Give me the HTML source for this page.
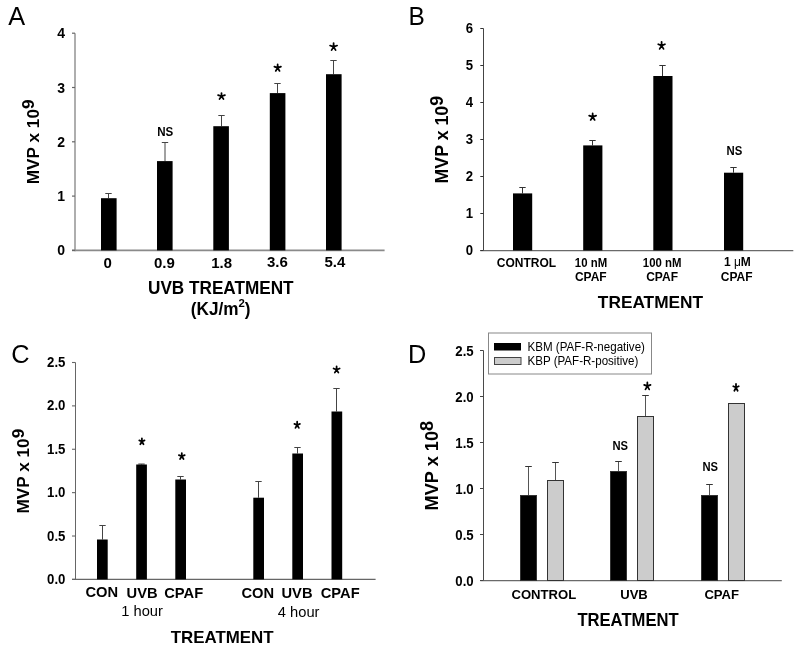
<!DOCTYPE html>
<html><head><meta charset="utf-8"><style>
html,body{margin:0;padding:0;background:#fff;width:800px;height:650px;overflow:hidden}
svg{display:block;font-family:"Liberation Sans", sans-serif;will-change:transform}
</style></head><body>
<svg width="800" height="650" viewBox="0 0 800 650">
<rect width="800" height="650" fill="#fff"/>
<text transform="translate(8.3,25) scale(0.975,1)" font-size="26" font-weight="normal" text-anchor="start" fill="#000" >A</text>
<line x1="75" y1="33.2" x2="75" y2="251.15" stroke="#a0a0a0" stroke-width="1.7"/>
<line x1="72" y1="250.4" x2="384.6" y2="250.4" stroke="#8a8a8a" stroke-width="1.6"/>
<line x1="72" y1="250.4" x2="75" y2="250.4" stroke="#666" stroke-width="1.2"/>
<text x="65" y="255.4" font-size="14" font-weight="bold" text-anchor="end" fill="#000" >0</text>
<line x1="72" y1="196.10000000000002" x2="75" y2="196.10000000000002" stroke="#666" stroke-width="1.2"/>
<text x="65" y="201.10000000000002" font-size="14" font-weight="bold" text-anchor="end" fill="#000" >1</text>
<line x1="72" y1="141.8" x2="75" y2="141.8" stroke="#666" stroke-width="1.2"/>
<text x="65" y="146.8" font-size="14" font-weight="bold" text-anchor="end" fill="#000" >2</text>
<line x1="72" y1="87.50000000000003" x2="75" y2="87.50000000000003" stroke="#666" stroke-width="1.2"/>
<text x="65" y="92.50000000000003" font-size="14" font-weight="bold" text-anchor="end" fill="#000" >3</text>
<line x1="72" y1="33.20000000000002" x2="75" y2="33.20000000000002" stroke="#666" stroke-width="1.2"/>
<text x="65" y="38.20000000000002" font-size="14" font-weight="bold" text-anchor="end" fill="#000" >4</text>
<line x1="108.5" y1="193.5" x2="108.5" y2="198.2" stroke="#444" stroke-width="1"/>
<line x1="105.3" y1="193.5" x2="111.7" y2="193.5" stroke="#444" stroke-width="1"/>
<rect x="101" y="198.2" width="15.6" height="52.20000000000002" fill="#000"/>
<line x1="165" y1="142.5" x2="165" y2="161.1" stroke="#444" stroke-width="1"/>
<line x1="161.8" y1="142.5" x2="168.2" y2="142.5" stroke="#444" stroke-width="1"/>
<rect x="157" y="161.1" width="15.6" height="89.30000000000001" fill="#000"/>
<line x1="221.5" y1="115.5" x2="221.5" y2="126.2" stroke="#444" stroke-width="1"/>
<line x1="218.3" y1="115.5" x2="224.7" y2="115.5" stroke="#444" stroke-width="1"/>
<rect x="213.3" y="126.2" width="15.6" height="124.2" fill="#000"/>
<line x1="277.5" y1="83.5" x2="277.5" y2="93.1" stroke="#444" stroke-width="1"/>
<line x1="274.3" y1="83.5" x2="280.7" y2="83.5" stroke="#444" stroke-width="1"/>
<rect x="269.8" y="93.1" width="15.6" height="157.3" fill="#000"/>
<line x1="333.5" y1="60.5" x2="333.5" y2="74.2" stroke="#444" stroke-width="1"/>
<line x1="330.3" y1="60.5" x2="336.7" y2="60.5" stroke="#444" stroke-width="1"/>
<rect x="326" y="74.2" width="15.6" height="176.2" fill="#000"/>
<text x="107.7" y="268.4" font-size="15" font-weight="bold" text-anchor="middle" fill="#000" >0</text>
<text x="164.4" y="268.4" font-size="15" font-weight="bold" text-anchor="middle" fill="#000" >0.9</text>
<text x="221.7" y="268.2" font-size="15" font-weight="bold" text-anchor="middle" fill="#000" >1.8</text>
<text x="277.4" y="267.4" font-size="15" font-weight="bold" text-anchor="middle" fill="#000" >3.6</text>
<text x="334.9" y="267.4" font-size="15" font-weight="bold" text-anchor="middle" fill="#000" >5.4</text>
<text transform="translate(165.3,136.2) scale(0.95,1)" font-size="12.2" font-weight="bold" text-anchor="middle" fill="#000" >NS</text>
<path d="M221.50 96.28L221.50 93.08 M221.50 96.28L218.07 95.13 M221.50 96.28L224.93 95.13 M221.50 96.28L219.52 99.03 M221.50 96.28L223.48 99.03" stroke="#000" stroke-width="1.75" stroke-linecap="round" fill="none"/>
<path d="M277.65 67.90L277.65 64.38 M277.65 67.90L274.38 66.65 M277.65 67.90L280.93 66.65 M277.65 67.90L275.74 70.92 M277.65 67.90L279.56 70.92" stroke="#000" stroke-width="1.75" stroke-linecap="round" fill="none"/>
<path d="M333.60 46.86L333.60 43.08 M333.60 46.86L330.07 45.54 M333.60 46.86L337.12 45.54 M333.60 46.86L331.58 50.12 M333.60 46.86L335.62 50.12" stroke="#000" stroke-width="1.75" stroke-linecap="round" fill="none"/>
<text transform="translate(220.8,293.5) scale(0.965,1)" font-size="17.8" font-weight="bold" text-anchor="middle" fill="#000" >UVB TREATMENT</text>
<text transform="translate(220.7,315) scale(0.965,1)" font-size="17.8" font-weight="bold" text-anchor="middle">(KJ/m<tspan dy="-7.6" font-size="11.8">2</tspan><tspan dy="7.6">)</tspan></text>
<text transform="translate(38.8,184.2) rotate(-90) scale(1.0,1)" font-size="17.2" font-weight="bold">MVP x 10<tspan dy="-5.3">9</tspan></text>
<text transform="translate(408.6,24.7) scale(0.94,1)" font-size="26" font-weight="normal" text-anchor="start" fill="#000" >B</text>
<line x1="483.5" y1="28.5" x2="483.5" y2="250.5" stroke="#444" stroke-width="1"/>
<line x1="480.3" y1="250.6" x2="793.3" y2="250.6" stroke="#6a6a6a" stroke-width="1.3"/>
<line x1="480.3" y1="250.5" x2="483.5" y2="250.5" stroke="#333" stroke-width="1"/>
<text transform="translate(473.1,255.4) scale(0.94,1)" font-size="14" font-weight="bold" text-anchor="end" fill="#000" >0</text>
<line x1="480.3" y1="213.5" x2="483.5" y2="213.5" stroke="#333" stroke-width="1"/>
<text transform="translate(473.1,218.4) scale(0.94,1)" font-size="14" font-weight="bold" text-anchor="end" fill="#000" >1</text>
<line x1="480.3" y1="176.5" x2="483.5" y2="176.5" stroke="#333" stroke-width="1"/>
<text transform="translate(473.1,181.4) scale(0.94,1)" font-size="14" font-weight="bold" text-anchor="end" fill="#000" >2</text>
<line x1="480.3" y1="139.5" x2="483.5" y2="139.5" stroke="#333" stroke-width="1"/>
<text transform="translate(473.1,144.4) scale(0.94,1)" font-size="14" font-weight="bold" text-anchor="end" fill="#000" >3</text>
<line x1="480.3" y1="102.5" x2="483.5" y2="102.5" stroke="#333" stroke-width="1"/>
<text transform="translate(473.1,107.4) scale(0.94,1)" font-size="14" font-weight="bold" text-anchor="end" fill="#000" >4</text>
<line x1="480.3" y1="65.5" x2="483.5" y2="65.5" stroke="#333" stroke-width="1"/>
<text transform="translate(473.1,70.4) scale(0.94,1)" font-size="14" font-weight="bold" text-anchor="end" fill="#000" >5</text>
<line x1="480.3" y1="28.5" x2="483.5" y2="28.5" stroke="#333" stroke-width="1"/>
<text transform="translate(473.1,33.4) scale(0.94,1)" font-size="14" font-weight="bold" text-anchor="end" fill="#000" >6</text>
<line x1="522.5" y1="187.5" x2="522.5" y2="193.4" stroke="#333" stroke-width="1"/>
<line x1="519.3" y1="187.5" x2="525.7" y2="187.5" stroke="#333" stroke-width="1"/>
<rect x="513" y="193.4" width="19.2" height="57.099999999999994" fill="#000"/>
<line x1="592.5" y1="140.5" x2="592.5" y2="145.4" stroke="#333" stroke-width="1"/>
<line x1="589.3" y1="140.5" x2="595.7" y2="140.5" stroke="#333" stroke-width="1"/>
<rect x="583.2" y="145.4" width="19.2" height="105.1" fill="#000"/>
<line x1="662.5" y1="65.5" x2="662.5" y2="76" stroke="#333" stroke-width="1"/>
<line x1="659.3" y1="65.5" x2="665.7" y2="65.5" stroke="#333" stroke-width="1"/>
<rect x="653.3" y="76" width="19.2" height="174.5" fill="#000"/>
<line x1="733.5" y1="167.5" x2="733.5" y2="172.7" stroke="#333" stroke-width="1"/>
<line x1="730.3" y1="167.5" x2="736.7" y2="167.5" stroke="#333" stroke-width="1"/>
<rect x="724" y="172.7" width="19.2" height="77.80000000000001" fill="#000"/>
<text x="526.5" y="266.8" font-size="12" font-weight="bold" text-anchor="middle" fill="#000" >CONTROL</text>
<text transform="translate(591,266.8) scale(0.95,1)" font-size="12" font-weight="bold" text-anchor="middle" fill="#000" >10 nM</text>
<text transform="translate(662.1,266.8) scale(0.95,1)" font-size="12" font-weight="bold" text-anchor="middle" fill="#000" >100 nM</text>
<text x="737.4" y="265.9" font-size="12" font-weight="bold" text-anchor="middle" fill="#000" >1 <tspan font-weight="normal">&#956;</tspan>M</text>
<text x="590.8" y="280.6" font-size="12" font-weight="bold" text-anchor="middle" fill="#000" >CPAF</text>
<text x="662.1" y="280.6" font-size="12" font-weight="bold" text-anchor="middle" fill="#000" >CPAF</text>
<text x="736.7" y="280.6" font-size="12" font-weight="bold" text-anchor="middle" fill="#000" >CPAF</text>
<text transform="translate(734.4,155) scale(0.93,1)" font-size="12.2" font-weight="bold" text-anchor="middle" fill="#000" >NS</text>
<path d="M592.65 116.90L592.65 113.38 M592.65 116.90L589.17 115.65 M592.65 116.90L596.12 115.65 M592.65 116.90L590.65 119.92 M592.65 116.90L594.65 119.92" stroke="#000" stroke-width="1.75" stroke-linecap="round" fill="none"/>
<path d="M661.60 45.62L661.60 41.77 M661.60 45.62L658.27 44.28 M661.60 45.62L664.92 44.28 M661.60 45.62L659.67 48.92 M661.60 45.62L663.53 48.92" stroke="#000" stroke-width="1.75" stroke-linecap="round" fill="none"/>
<text x="650.5" y="308.3" font-size="17.3" font-weight="bold" text-anchor="middle" fill="#000" >TREATMENT</text>
<text transform="translate(447.8,183.5) rotate(-90) scale(1.0,1)" font-size="17.8" font-weight="bold">MVP x 10<tspan dy="-5.3">9</tspan></text>
<text transform="translate(11.2,363) scale(0.975,1)" font-size="26" font-weight="normal" text-anchor="start" fill="#000" >C</text>
<line x1="75.5" y1="362.5" x2="75.5" y2="579.4" stroke="#666" stroke-width="1"/>
<line x1="72" y1="579.4" x2="375.6" y2="579.4" stroke="#666" stroke-width="1.2"/>
<line x1="72" y1="579.4" x2="75.5" y2="579.4" stroke="#666" stroke-width="1.1"/>
<text transform="translate(65.4,584.0) scale(0.88,1)" font-size="15" font-weight="bold" text-anchor="end" fill="#000" >0.0</text>
<line x1="72" y1="536.02" x2="75.5" y2="536.02" stroke="#666" stroke-width="1.1"/>
<text transform="translate(65.4,540.62) scale(0.88,1)" font-size="15" font-weight="bold" text-anchor="end" fill="#000" >0.5</text>
<line x1="72" y1="492.64" x2="75.5" y2="492.64" stroke="#666" stroke-width="1.1"/>
<text transform="translate(65.4,497.24) scale(0.88,1)" font-size="15" font-weight="bold" text-anchor="end" fill="#000" >1.0</text>
<line x1="72" y1="449.26" x2="75.5" y2="449.26" stroke="#666" stroke-width="1.1"/>
<text transform="translate(65.4,453.86) scale(0.88,1)" font-size="15" font-weight="bold" text-anchor="end" fill="#000" >1.5</text>
<line x1="72" y1="405.88" x2="75.5" y2="405.88" stroke="#666" stroke-width="1.1"/>
<text transform="translate(65.4,410.48) scale(0.88,1)" font-size="15" font-weight="bold" text-anchor="end" fill="#000" >2.0</text>
<line x1="72" y1="362.5" x2="75.5" y2="362.5" stroke="#666" stroke-width="1.1"/>
<text transform="translate(65.4,367.1) scale(0.88,1)" font-size="15" font-weight="bold" text-anchor="end" fill="#000" >2.5</text>
<line x1="102.5" y1="525.5" x2="102.5" y2="539.5" stroke="#444" stroke-width="1"/>
<line x1="99.3" y1="525.5" x2="105.7" y2="525.5" stroke="#444" stroke-width="1"/>
<rect x="97" y="539.5" width="10.7" height="39.89999999999998" fill="#000"/>
<line x1="141.5" y1="464" x2="141.5" y2="464.5" stroke="#444" stroke-width="1"/>
<line x1="138.3" y1="464" x2="144.7" y2="464" stroke="#444" stroke-width="1"/>
<rect x="136.2" y="464.5" width="10.7" height="114.89999999999998" fill="#000"/>
<line x1="180.5" y1="476.5" x2="180.5" y2="479.5" stroke="#444" stroke-width="1"/>
<line x1="177.3" y1="476.5" x2="183.7" y2="476.5" stroke="#444" stroke-width="1"/>
<rect x="175.3" y="479.5" width="10.7" height="99.89999999999998" fill="#000"/>
<line x1="258.5" y1="481.5" x2="258.5" y2="497.7" stroke="#444" stroke-width="1"/>
<line x1="255.3" y1="481.5" x2="261.7" y2="481.5" stroke="#444" stroke-width="1"/>
<rect x="253.3" y="497.7" width="10.7" height="81.69999999999999" fill="#000"/>
<line x1="297.5" y1="447.5" x2="297.5" y2="453.5" stroke="#444" stroke-width="1"/>
<line x1="294.3" y1="447.5" x2="300.7" y2="447.5" stroke="#444" stroke-width="1"/>
<rect x="292.3" y="453.5" width="10.7" height="125.89999999999998" fill="#000"/>
<line x1="336.5" y1="388.5" x2="336.5" y2="411.5" stroke="#444" stroke-width="1"/>
<line x1="333.3" y1="388.5" x2="339.7" y2="388.5" stroke="#444" stroke-width="1"/>
<rect x="331.5" y="411.5" width="10.7" height="167.89999999999998" fill="#000"/>
<text x="101.85" y="597.4" font-size="14.7" font-weight="bold" text-anchor="middle" fill="#000" >CON</text>
<text x="142.1" y="598.2" font-size="14.7" font-weight="bold" text-anchor="middle" fill="#000" >UVB</text>
<text x="183.7" y="598.2" font-size="14.7" font-weight="bold" text-anchor="middle" fill="#000" >CPAF</text>
<text x="257.75" y="597.6" font-size="14.7" font-weight="bold" text-anchor="middle" fill="#000" >CON</text>
<text x="297" y="598.2" font-size="14.7" font-weight="bold" text-anchor="middle" fill="#000" >UVB</text>
<text x="340.2" y="598.2" font-size="14.7" font-weight="bold" text-anchor="middle" fill="#000" >CPAF</text>
<text x="142.1" y="616" font-size="14.7" font-weight="normal" text-anchor="middle" fill="#000" >1 hour</text>
<text x="298.7" y="616.6" font-size="14.7" font-weight="normal" text-anchor="middle" fill="#000" >4 hour</text>
<text x="222.15" y="643.2" font-size="16.9" font-weight="bold" text-anchor="middle" fill="#000" >TREATMENT</text>
<path d="M141.90 441.48L141.90 438.27 M141.90 441.48L139.28 440.33 M141.90 441.48L144.53 440.33 M141.90 441.48L140.29 444.23 M141.90 441.48L143.51 444.23" stroke="#000" stroke-width="1.75" stroke-linecap="round" fill="none"/>
<path d="M181.80 456.28L181.80 453.07 M181.80 456.28L178.88 455.13 M181.80 456.28L184.72 455.13 M181.80 456.28L180.05 459.02 M181.80 456.28L183.55 459.02" stroke="#000" stroke-width="1.75" stroke-linecap="round" fill="none"/>
<path d="M297.15 425.04L297.15 421.68 M297.15 425.04L294.38 423.84 M297.15 425.04L299.93 423.84 M297.15 425.04L295.47 427.93 M297.15 425.04L298.83 427.93" stroke="#000" stroke-width="1.75" stroke-linecap="round" fill="none"/>
<path d="M336.60 369.69L336.60 366.27 M336.60 369.69L333.57 368.48 M336.60 369.69L339.62 368.48 M336.60 369.69L334.81 372.62 M336.60 369.69L338.39 372.62" stroke="#000" stroke-width="1.75" stroke-linecap="round" fill="none"/>
<text transform="translate(29,513.5) rotate(-90) scale(1.0,1)" font-size="17.2" font-weight="bold">MVP x 10<tspan dy="-5.3">9</tspan></text>
<text transform="translate(408.1,363) scale(0.975,1)" font-size="26" font-weight="normal" text-anchor="start" fill="#000" >D</text>
<line x1="483.5" y1="350.5" x2="483.5" y2="580.5" stroke="#4a4a4a" stroke-width="1"/>
<line x1="480.3" y1="580.7" x2="781.8" y2="580.7" stroke="#6a6a6a" stroke-width="1.3"/>
<line x1="480" y1="580.5" x2="483.5" y2="580.5" stroke="#444" stroke-width="1"/>
<text transform="translate(473.7,585.9) scale(0.88,1)" font-size="15" font-weight="bold" text-anchor="end" fill="#000" >0.0</text>
<line x1="480" y1="534.5" x2="483.5" y2="534.5" stroke="#444" stroke-width="1"/>
<text transform="translate(473.7,539.9) scale(0.88,1)" font-size="15" font-weight="bold" text-anchor="end" fill="#000" >0.5</text>
<line x1="480" y1="488.5" x2="483.5" y2="488.5" stroke="#444" stroke-width="1"/>
<text transform="translate(473.7,493.9) scale(0.88,1)" font-size="15" font-weight="bold" text-anchor="end" fill="#000" >1.0</text>
<line x1="480" y1="442.5" x2="483.5" y2="442.5" stroke="#444" stroke-width="1"/>
<text transform="translate(473.7,447.9) scale(0.88,1)" font-size="15" font-weight="bold" text-anchor="end" fill="#000" >1.5</text>
<line x1="480" y1="396.5" x2="483.5" y2="396.5" stroke="#444" stroke-width="1"/>
<text transform="translate(473.7,401.9) scale(0.88,1)" font-size="15" font-weight="bold" text-anchor="end" fill="#000" >2.0</text>
<line x1="480" y1="350.5" x2="483.5" y2="350.5" stroke="#444" stroke-width="1"/>
<text transform="translate(473.7,355.9) scale(0.88,1)" font-size="15" font-weight="bold" text-anchor="end" fill="#000" >2.5</text>
<line x1="528.5" y1="466.5" x2="528.5" y2="495" stroke="#555" stroke-width="1"/>
<line x1="525.2" y1="466.5" x2="531.8" y2="466.5" stroke="#333" stroke-width="1"/>
<rect x="520.5" y="495.5" width="16" height="85.0" fill="#000" stroke="#333" stroke-width="1"/>
<line x1="555.5" y1="462.5" x2="555.5" y2="480" stroke="#555" stroke-width="1"/>
<line x1="552.2" y1="462.5" x2="558.8" y2="462.5" stroke="#333" stroke-width="1"/>
<rect x="547.5" y="480.5" width="16" height="100.0" fill="#ccc" stroke="#333" stroke-width="1"/>
<line x1="618.5" y1="461.5" x2="618.5" y2="471" stroke="#555" stroke-width="1"/>
<line x1="615.2" y1="461.5" x2="621.8" y2="461.5" stroke="#333" stroke-width="1"/>
<rect x="610.5" y="471.5" width="16" height="109.0" fill="#000" stroke="#333" stroke-width="1"/>
<line x1="645.5" y1="395.5" x2="645.5" y2="416" stroke="#555" stroke-width="1"/>
<line x1="642.2" y1="395.5" x2="648.8" y2="395.5" stroke="#333" stroke-width="1"/>
<rect x="637.5" y="416.5" width="16" height="164.0" fill="#ccc" stroke="#333" stroke-width="1"/>
<line x1="709.5" y1="484.5" x2="709.5" y2="495" stroke="#555" stroke-width="1"/>
<line x1="706.2" y1="484.5" x2="712.8" y2="484.5" stroke="#333" stroke-width="1"/>
<rect x="701.5" y="495.5" width="16" height="85.0" fill="#000" stroke="#333" stroke-width="1"/>
<line x1="736.5" y1="403.5" x2="736.5" y2="403" stroke="#555" stroke-width="1"/>
<line x1="733.2" y1="403.5" x2="739.8" y2="403.5" stroke="#333" stroke-width="1"/>
<rect x="728.5" y="403.5" width="16" height="177.0" fill="#ccc" stroke="#333" stroke-width="1"/>
<text x="543.85" y="598.5" font-size="13.1" font-weight="bold" text-anchor="middle" fill="#000" >CONTROL</text>
<text x="634" y="598.5" font-size="13.1" font-weight="bold" text-anchor="middle" fill="#000" >UVB</text>
<text x="721.75" y="598.5" font-size="13.1" font-weight="bold" text-anchor="middle" fill="#000" >CPAF</text>
<text transform="translate(628,626) scale(0.945,1)" font-size="17.6" font-weight="bold" text-anchor="middle" fill="#000" >TREATMENT</text>
<text transform="translate(620.2,449.6) scale(0.92,1)" font-size="12.2" font-weight="bold" text-anchor="middle" fill="#000" >NS</text>
<text transform="translate(710.2,471) scale(0.92,1)" font-size="12.2" font-weight="bold" text-anchor="middle" fill="#000" >NS</text>
<path d="M647.35 386.16L647.35 382.38 M647.35 386.16L644.17 384.84 M647.35 386.16L650.52 384.84 M647.35 386.16L645.49 389.43 M647.35 386.16L649.21 389.43" stroke="#000" stroke-width="1.75" stroke-linecap="round" fill="none"/>
<path d="M736.00 387.56L736.00 383.88 M736.00 387.56L733.27 386.27 M736.00 387.56L738.73 386.27 M736.00 387.56L734.34 390.73 M736.00 387.56L737.66 390.73" stroke="#000" stroke-width="1.75" stroke-linecap="round" fill="none"/>
<rect x="488.5" y="333" width="163" height="41" fill="#fff" stroke="#888" stroke-width="1"/>
<rect x="494" y="343" width="27" height="7.5" fill="#000"/>
<rect x="494.5" y="357.5" width="26.5" height="7" fill="#ccc" stroke="#444" stroke-width="1"/>
<text transform="translate(527.5,350.6) scale(0.965,1)" font-size="12" font-weight="normal" text-anchor="start" fill="#000" >KBM (PAF-R-negative)</text>
<text transform="translate(527.5,364.6) scale(0.965,1)" font-size="12" font-weight="normal" text-anchor="start" fill="#000" >KBP (PAF-R-positive)</text>
<text transform="translate(437.8,510.5) rotate(-90) scale(1.0,1)" font-size="18.2" font-weight="bold">MVP x 10<tspan dy="-4.4">8</tspan></text>
</svg></body></html>
